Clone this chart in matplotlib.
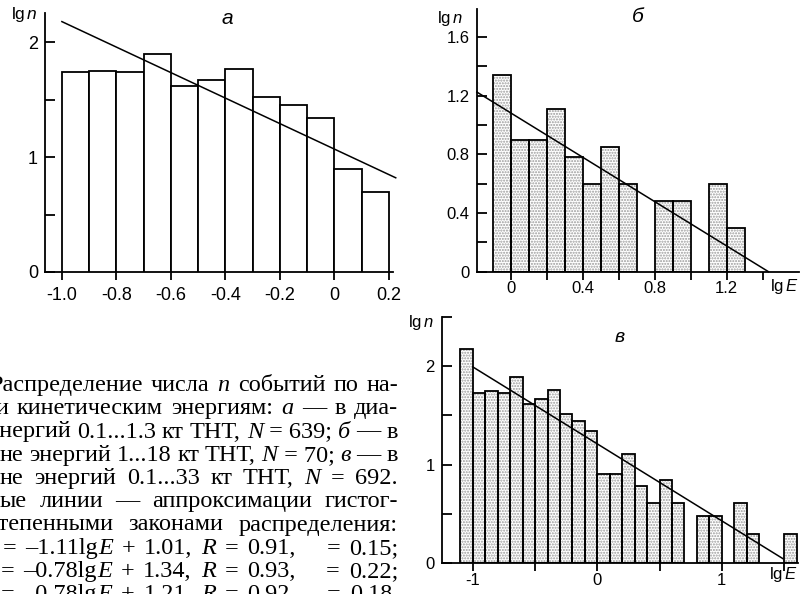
import matplotlib
matplotlib.use('Agg')
import matplotlib.pyplot as plt
import numpy as np

plt.rcParams['font.family'] = ['Liberation Sans', 'DejaVu Sans']
plt.rcParams['mathtext.fontset'] = 'custom'
plt.rcParams['mathtext.rm'] = 'Liberation Sans'
plt.rcParams['mathtext.it'] = 'Liberation Sans:italic'
plt.rcParams['hatch.linewidth'] = 1.0

# ---------------- data ----------------
bin_width = 0.1

a_start = -1.0
a_lgn = [1.74, 1.75, 1.74, 1.90, 1.62, 1.67, 1.77, 1.52, 1.45, 1.34, 0.90, 0.70]

b_start = -0.1
b_lgn = [1.34, 0.90, 0.90, 1.11, 0.78, 0.60, 0.85, 0.60, 0.0, 0.48, 0.48, 0.0, 0.60, 0.30]

v_start = -1.1
v_lgn = [2.17, 1.73, 1.75, 1.73, 1.89, 1.61, 1.67, 1.76, 1.51, 1.44, 1.34,
         0.90, 0.90, 1.11, 0.78, 0.61, 0.84, 0.61, 0.0, 0.48, 0.48, 0.0,
         0.61, 0.30, 0.0, 0.0, 0.30]

# fitted lines: slope, intercept, x-range
a_fit = (-1.11, 1.07, (-1.0, 0.225))
b_fit = (-0.755, 1.082, (-0.19, 1.433))
v_fit = (-0.78, 1.21, (-1.0, 1.49))

a_xticks = [-1.0, -0.8, -0.6, -0.4, -0.2, 0.0, 0.2]
a_xlabels = ['-1.0', '-0.8', '-0.6', '-0.4', '-0.2', '0', '0.2']
a_yticks = [0, 0.5, 1, 1.5, 2]
a_ylabels = ['0', '', '1', '', '2']

b_xticks = [0, 0.2, 0.4, 0.6, 0.8, 1.0, 1.2, 1.4]
b_xlabels = ['0', '', '0.4', '', '0.8', '', '1.2', '']
b_yticks = [0, 0.2, 0.4, 0.6, 0.8, 1.0, 1.2, 1.4, 1.6]
b_ylabels = ['0', '', '0.4', '', '0.8', '', '1.2', '', '1.6']

v_xticks = [-1, -0.5, 0, 0.5, 1, 1.5]
v_xlabels = ['-1', '', '0', '', '1', '']
v_yticks = [0, 0.5, 1, 1.5, 2, 2.5]
v_ylabels = ['0', '', '1', '', '2', '']

W, H = 800, 594
fig = plt.figure(figsize=(W / 100, H / 100), dpi=100)


def px_box(l, r, t, b):
    return [l / W, (H - b) / H, (r - l) / W, (b - t) / H]


LW = 1.3


def make_axes(box, xlim, ylim, xticks, xlabels, yticks, ylabels, fs, xpad):
    ax = fig.add_axes(box)
    ax.set_xlim(*xlim)
    ax.set_ylim(*ylim)
    for s in ['top', 'right']:
        ax.spines[s].set_visible(False)
    for s in ['left', 'bottom']:
        ax.spines[s].set_linewidth(LW)
    ax.set_xticks(xticks)
    ax.set_xticklabels(xlabels)
    ax.set_yticks(yticks)
    ax.set_yticklabels(ylabels)
    ax.tick_params(axis='y', direction='in', length=7.5, width=LW, pad=5, labelsize=fs)
    ax.tick_params(axis='x', direction='out', length=5.5, width=LW, pad=xpad, labelsize=fs)
    ax.patch.set_alpha(0)
    return ax


def draw_bars(ax, start, vals, dotted):
    vals = np.array(vals)
    lefts = start + bin_width * np.arange(len(vals))
    m = vals > 0
    if dotted:
        ax.bar(lefts[m], vals[m], width=bin_width, align='edge', facecolor='white',
               edgecolor='#9a9a9a', hatch='......', linewidth=0, zorder=2)
        ax.bar(lefts[m], vals[m], width=bin_width, align='edge', facecolor='none',
               edgecolor='black', linewidth=LW, zorder=3)
    else:
        ax.bar(lefts[m], vals[m], width=bin_width, align='edge', facecolor='white',
               edgecolor='black', linewidth=LW, zorder=3)


def draw_fit(ax, fit):
    k, c, (x0, x1) = fit
    xs = np.array([x0, x1])
    ax.plot(xs, k * xs + c, color='black', lw=1.1, zorder=4, clip_on=False)


# panel а
ax_a = make_axes(px_box(45, 393, 13, 272), (-1.062, 0.215), (0, 2.255),
                 a_xticks, a_xlabels, a_yticks, a_ylabels, 13, 5)
draw_bars(ax_a, a_start, a_lgn, False)
draw_fit(ax_a, a_fit)

# panel б
ax_b = make_axes(px_box(476.7, 799, 9.3, 271.7), (-0.191, 1.603), (0, 1.79),
                 b_xticks, b_xlabels, b_yticks, b_ylabels, 12, 1.5)
draw_bars(ax_b, b_start, b_lgn, True)
draw_fit(ax_b, b_fit)

# panel в
ax_v = make_axes(px_box(441.7, 798, 316.6, 563.3), (-1.25, 1.612), (0, 2.5),
                 v_xticks, v_xlabels, v_yticks, v_ylabels, 12, 1.5)
draw_bars(ax_v, v_start, v_lgn, True)
draw_fit(ax_v, v_fit)


def ftxt(x, y, s, **kw):
    return fig.text(x / W, 1 - y / H, s, **kw)


# axis captions & panel letters
ftxt(24, 15, r'$\mathrm{lg}\,n$', ha='center', va='center', fontsize=12.5)
ftxt(450, 18, r'$\mathrm{lg}\,n$', ha='center', va='center', fontsize=12)
ftxt(421, 323, r'$\mathrm{lg}\,n$', ha='center', va='center', fontsize=12)
ftxt(784, 287, r'$\mathrm{lg}\,E$', ha='center', va='center', fontsize=12)
ftxt(783, 575, r'$\mathrm{lg}\,E$', ha='center', va='center', fontsize=12)
ftxt(227, 18, 'а', ha='center', va='center', fontsize=15, style='italic')
ftxt(638, 17, 'б', ha='center', va='center', fontsize=15, style='italic')
ftxt(620, 338, 'в', ha='center', va='center', fontsize=14, style='italic')

# ---------------- caption (justified) ----------------
SIG = '\x00SIGMA'
caption_lines = [
    (-11, 'Распределение числа _n_ событий по на-'),
    (-4, 'и кинетическим энергиям: _а_ — в диа-'),
    (-11, 'энергий 0.1...1.3 кт ТНТ, _N_\u00a0=\u00a0639; _б_ — в'),
    (0, 'не энергий 1...18 кт ТНТ, _N_\u00a0=\u00a070; _в_ — в'),
    (0, 'не энергий 0.1...33 кт ТНТ, _N_ = 692.'),
    (0, 'ые линии — аппроксимации гистог-'),
    (-13, 'степенными законами распределения:'),
    (3, '= –1.11lg_E_ + 1.01, _R_ = 0.91, ' + SIG + ' = 0.15;'),
    (1, '= –0.78lg_E_ + 1.34, _R_ = 0.93, ' + SIG + ' = 0.22;'),
    (1, '= –0.78lg_E_ + 1.21, _R_ = 0.92, ' + SIG + ' = 0.18.'),
]
CAP_FS = 17.5
CAP_RIGHT = 398
CAP_BASE0 = 391
CAP_STEP = 23.25

renderer = fig.canvas.get_renderer()


def runs_of(word):
    parts = word.split('_')
    return [(p, i % 2 == 1) for i, p in enumerate(parts) if p]


def text_width(s, italic):
    t = fig.text(0, 0, s, fontfamily='Liberation Serif', fontsize=CAP_FS,
                 style='italic' if italic else 'normal')
    w = t.get_window_extent(renderer).width
    t.remove()
    return w


for i, (x0, line) in enumerate(caption_lines):
    y = CAP_BASE0 + CAP_STEP * i
    words = line.split(' ')
    widths = []
    for w in words:
        if w == SIG:
            widths.append(text_width('σ', False))
        else:
            widths.append(sum(text_width(p, it) for p, it in runs_of(w)))
    gap = (CAP_RIGHT - x0 - sum(widths)) / (len(words) - 1)
    x = x0
    for w, wd in zip(words, widths):
        if w != SIG:
            xx = x
            for p, it in runs_of(w):
                ftxt(xx, y, p, fontfamily='Liberation Serif', fontsize=CAP_FS,
                     style='italic' if it else 'normal', ha='left', va='baseline')
                xx += text_width(p, it)
        x += wd + gap

fig.savefig('out.png', dpi=100)
